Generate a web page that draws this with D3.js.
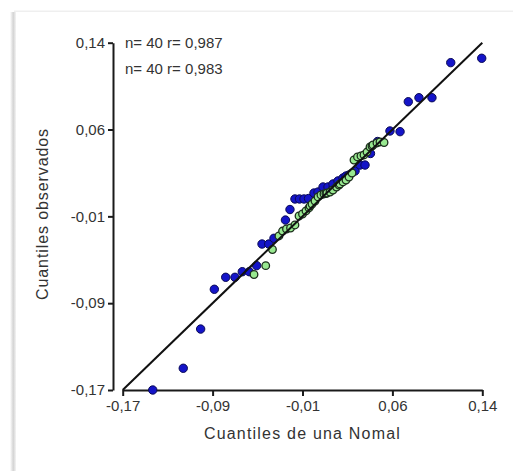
<!DOCTYPE html>
<html>
<head>
<meta charset="utf-8">
<script src="https://cdn.jsdelivr.net/npm/d3@7"></script>
<style>
  html, body { margin: 0; padding: 0; background: #fff; }
  svg { display: block; font-family: Arial, "Liberation Sans", sans-serif; }
</style>
</head>
<body>
<div id="chart"></div>
<script>
// Q-Q plot: observed quantiles vs. normal quantiles, two samples
const blueX = [-0.1441, -0.1178, -0.1028, -0.0910, -0.0812, -0.0732, -0.0669, -0.0609, -0.0545, -0.0499,
  -0.0441, -0.0396, -0.0297, -0.0258, -0.0215, -0.0176, -0.0137, -0.0098, -0.0051, -0.0016,
  0.0027, 0.0070, 0.0113, 0.0113, 0.0156, 0.0199, 0.0225, 0.0251, 0.0303, 0.0346,
  0.0389, 0.0436, 0.0497, 0.0604, 0.0691, 0.0762, 0.0854, 0.0966, 0.1128, 0.1395];
const blueY = [-0.1700, -0.1506, -0.1156, -0.0801, -0.0694, -0.0694, -0.0644, -0.0644, -0.0590, -0.0397,
  -0.0397, -0.0346, -0.0183, -0.0089, 0.0005, 0.0005, 0.0005, 0.0009, 0.0058, 0.0067,
  0.0112, 0.0112, 0.0103, 0.0139, 0.0166, 0.0192, 0.0210, 0.0219, 0.0255, 0.0308,
  0.0308, 0.0411, 0.0518, 0.0612, 0.0606, 0.0873, 0.0909, 0.0909, 0.1222, 0.1261];

const greenX = [-0.0568, -0.0467, -0.0409, -0.0353, -0.0322, -0.0288, -0.0253, -0.0215, -0.0180, -0.0150,
  -0.0120, -0.0094, -0.0085, -0.0068, -0.0042, -0.0016, 0.0009, 0.0035, 0.0052, 0.0061,
  0.0087, 0.0113, 0.0143, 0.0165, 0.0173, 0.0199, 0.0225, 0.0251, 0.0277, 0.0294,
  0.0324, 0.0354, 0.0380, 0.0406, 0.0432, 0.0449, 0.0458, 0.0492, 0.0518, 0.0553];
const greenY = [-0.0669, -0.0590, -0.0446, -0.0325, -0.0281, -0.0263, -0.0254, -0.0227, -0.0147, -0.0129,
  -0.0102, -0.0075, -0.0058, -0.0040, -0.0013, 0.0023, 0.0041, 0.0050, 0.0054, 0.0058,
  0.0067, 0.0085, 0.0112, 0.0130, 0.0139, 0.0157, 0.0174, 0.0201, 0.0237, 0.0353,
  0.0380, 0.0389, 0.0398, 0.0424, 0.0469, 0.0478, 0.0487, 0.0505, 0.0514, 0.0509];

const tickValues = [-0.17, -0.0925, -0.015, 0.0625, 0.14];
const tickLabels = ["-0,17", "-0,09", "-0,01", "0,06", "0,14"];
const legendLines = ["n= 40 r= 0,987", "n= 40 r= 0,983"];
const domain = [-0.17, 0.14];

const W = 513, H = 471;
const margin = { top: 42.7, right: 30.7, bottom: 81, left: 122.7 };

const svg = d3.select('#chart')
  .append('svg')
  .attr('width', W)
  .attr('height', H);

// card shadow on the left / top edge
const defs = svg.append('defs');
const shade = defs.append('linearGradient').attr('id', 'shade');
shade.append('stop').attr('offset', '0%').attr('stop-color', '#fff');
shade.append('stop').attr('offset', '55%').attr('stop-color', '#d4d4d4');
shade.append('stop').attr('offset', '100%').attr('stop-color', '#f4f4f4');
svg.append('rect').attr('x', 10).attr('y', 12).attr('width', 6).attr('height', H - 12)
  .attr('fill', 'url(#shade)');
svg.append('rect').attr('x', 14).attr('y', 10.5).attr('width', W - 14).attr('height', 1.5)
  .attr('fill', '#efefef');

const x = d3.scaleLinear().domain(domain).range([margin.left, W - margin.right]);
const y = d3.scaleLinear().domain(domain).range([H - margin.bottom, margin.top]);

const fmt = v => tickLabels[tickValues.indexOf(v)];

// axes
const xAxis = svg.append('g')
  .attr('transform', `translate(0,${H - margin.bottom})`)
  .call(d3.axisBottom(x).tickValues(tickValues).tickFormat(fmt).tickSize(6).tickSizeOuter(0).tickPadding(4));
const yAxis = svg.append('g')
  .attr('transform', `translate(${margin.left - 9.7},0)`)
  .call(d3.axisLeft(y).tickValues(tickValues).tickFormat(fmt).tickSize(5).tickSizeOuter(0).tickPadding(3));

[xAxis, yAxis].forEach(g => {
  g.select('.domain').attr('stroke', '#1a1a1a').attr('stroke-width', 2);
  g.selectAll('.tick line').attr('stroke', '#1a1a1a').attr('stroke-width', 2);
  g.selectAll('.tick text').attr('fill', '#333').style('font-size', '15px');
});

// points
const blue = blueX.map((v, i) => ({ x: v, y: blueY[i] }));
const green = greenX.map((v, i) => ({ x: v, y: greenY[i] }));

svg.append('g').selectAll('circle')
  .data(blue)
  .enter()
  .append('circle')
  .attr('cx', d => x(d.x))
  .attr('cy', d => y(d.y))
  .attr('r', 4.2)
  .attr('fill', '#1414c8')
  .attr('stroke', '#0a0a55')
  .attr('stroke-width', 1);

svg.append('g').selectAll('circle')
  .data(green)
  .enter()
  .append('circle')
  .attr('cx', d => x(d.x))
  .attr('cy', d => y(d.y))
  .attr('r', 3.8)
  .attr('fill', '#98e890')
  .attr('stroke', '#1c2e1c')
  .attr('stroke-width', 1.3);

// reference line y = x
svg.append('path')
  .datum(domain)
  .attr('fill', 'none')
  .attr('stroke', '#111')
  .attr('stroke-width', 2)
  .attr('d', d3.line().x(d => x(d)).y(d => y(d)));

// legend text
svg.append('g').selectAll('text')
  .data(legendLines)
  .enter()
  .append('text')
  .attr('x', 125)
  .attr('y', (d, i) => 48 + i * 26)
  .attr('fill', '#333')
  .style('font-size', '15px')
  .text(d => d);

// axis titles
svg.append('text')
  .attr('x', x(-0.015))
  .attr('y', 439)
  .attr('text-anchor', 'middle')
  .attr('fill', '#333')
  .style('font-size', '16px')
  .style('letter-spacing', '1.2px')
  .text('Cuantiles de una Nomal');

svg.append('text')
  .attr('transform', 'translate(48,214) rotate(-90)')
  .attr('text-anchor', 'middle')
  .attr('fill', '#333')
  .style('font-size', '16px')
  .style('letter-spacing', '0.9px')
  .text('Cuantiles observados');
</script>
</body>
</html>
